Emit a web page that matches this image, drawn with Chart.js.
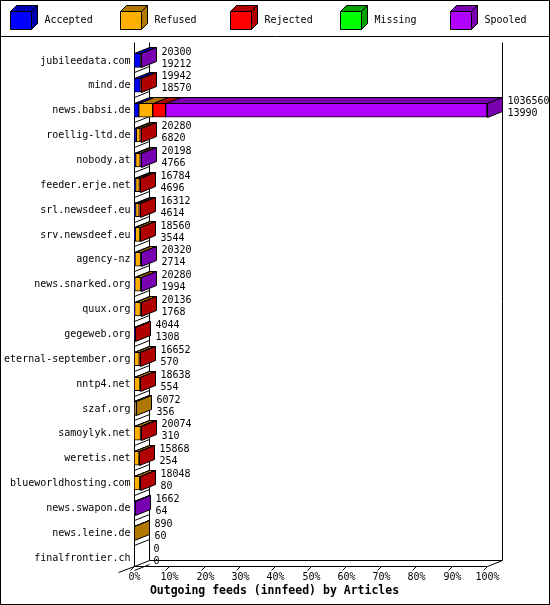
<!DOCTYPE html>
<html>
<head>
<meta charset="utf-8">
<script src="https://cdn.jsdelivr.net/npm/chart.js@4/dist/chart.umd.min.js"></script>
<style>
  html, body { margin: 0; padding: 0; background: #fff; }
  #wrap { width: 550px; height: 605px; position: relative; }
</style>
</head>
<body>
<div id="wrap"><canvas id="chart" width="550" height="605"></canvas></div>
<script>
// ---- Data (articles) ----
const hosts = ['jubileedata.com', 'mind.de', 'news.babsi.de', 'roellig-ltd.de', 'nobody.at',
  'feeder.erje.net', 'srl.newsdeef.eu', 'srv.newsdeef.eu', 'agency-nz', 'news.snarked.org',
  'quux.org', 'gegeweb.org', 'eternal-september.org', 'nntp4.net', 'szaf.org',
  'samoylyk.net', 'weretis.net', 'blueworldhosting.com', 'news.swapon.de', 'news.leine.de',
  'finalfrontier.ch'];
const offered = [20300, 19942, 1036560, 20280, 20198, 16784, 16312, 18560, 20320, 20280,
  20136, 4044, 16652, 18638, 6072, 20074, 15868, 18048, 1662, 890, 0];
const accepted = [19212, 18570, 13990, 6820, 4766, 4696, 4614, 3544, 2714, 1994,
  1768, 1308, 570, 554, 356, 310, 254, 80, 64, 60, 0];
const refused = [0, 0, 41000, 11460, 13432, 11088, 10698, 14016, 16606, 17286,
  17368, 0, 15082, 17084, 5716, 18764, 14614, 16968, 0, 830, 0];
const rejected = [0, 1372, 38000, 2000, 0, 1000, 1000, 1000, 0, 0,
  1000, 2736, 1000, 1000, 0, 1000, 1000, 1000, 0, 0, 0];
const missing = [0, 0, 0, 0, 0, 0, 0, 0, 0, 0, 0, 0, 0, 0, 0, 0, 0, 0, 0, 0, 0];
const spooled = [1088, 0, 943570, 0, 2000, 0, 0, 0, 1000, 1000,
  0, 0, 0, 0, 0, 0, 0, 0, 1598, 0, 0];
const xTicks = ['0%', '10%', '20%', '30%', '40%', '50%', '60%', '70%', '80%', '90%', '100%'];

const seriesNames = ['Accepted', 'Refused', 'Rejected', 'Missing', 'Spooled'];
const front = ['#0000ff', '#ffb000', '#ff0000', '#00ff00', '#b000ff'];
const dark = ['#0000b0', '#b07800', '#b00000', '#00a000', '#7800b0'];

const maxOffered = Math.max(...offered);
const pct = arr => arr.map(v => v / maxOffered * 100);

const DX = 15, DY = -6;
const FONT = '10px "DejaVu Sans Mono", monospace';

function poly(ctx, pts, fill) {
  ctx.beginPath();
  ctx.moveTo(pts[0][0], pts[0][1]);
  for (let i = 1; i < pts.length; i++) ctx.lineTo(pts[i][0], pts[i][1]);
  ctx.closePath();
  if (fill) { ctx.fillStyle = fill; ctx.fill(); }
  ctx.strokeStyle = '#000';
  ctx.lineWidth = 1;
  ctx.stroke();
}

// frame, legend, axis, 3d faces and labels
const frame3d = {
  id: 'frame3d',
  beforeDatasetsDraw(chart) {
    const { ctx, scales: { x } } = chart;
    ctx.save();
    ctx.translate(0.5, 0.5);
    ctx.strokeStyle = '#000';
    ctx.lineWidth = 1;
    // outer border + legend separator
    ctx.strokeRect(0, 0, 549, 604);
    ctx.beginPath(); ctx.moveTo(0, 36); ctx.lineTo(550, 36); ctx.stroke();
    // legend
    ctx.font = FONT;
    ctx.textBaseline = 'middle';
    seriesNames.forEach((n, i) => {
      const lx = 10 + i * 110;
      poly(ctx, [[lx, 11], [lx + 21, 11], [lx + 21, 29], [lx, 29]], front[i]);
      poly(ctx, [[lx, 11], [lx + 6, 5], [lx + 27, 5], [lx + 21, 11]], dark[i]);
      poly(ctx, [[lx + 21, 11], [lx + 27, 5], [lx + 27, 23], [lx + 21, 29]], dark[i]);
      ctx.fillStyle = '#000';
      ctx.fillText(n, lx + 34, 20);
    });
    const x0 = Math.round(x.getPixelForValue(0));
    const x1 = Math.round(x.getPixelForValue(100));
    const floor = 566;
    // back walls
    ctx.beginPath();
    ctx.moveTo(x0 + DX, 42); ctx.lineTo(x0 + DX, floor + DY);
    ctx.lineTo(x1 + DX, floor + DY); ctx.lineTo(x1 + DX, 42);
    ctx.moveTo(x0, 42); ctx.lineTo(x0, floor);
    ctx.lineTo(x1, floor); ctx.lineTo(x1 + DX, floor + DY);
    ctx.moveTo(x0, floor); ctx.lineTo(x0 + DX, floor + DY);
    ctx.moveTo(x0, floor); ctx.lineTo(x0 - 16, floor + 6);
    ctx.stroke();
    // category separators on left wall
    hosts.forEach((h, i) => {
      const y = Math.round(chart.scales.y.getPixelForValue(i) + 12);
      ctx.beginPath(); ctx.moveTo(x0, y); ctx.lineTo(x0 + DX, y + DY); ctx.stroke();
    });
    // x ticks
    ctx.textAlign = 'center';
    ctx.textBaseline = 'middle';
    xTicks.forEach((lbl, i) => {
      const px = Math.round(x.getPixelForValue(i * 10));
      ctx.beginPath(); ctx.moveTo(px, floor); ctx.lineTo(px - 4, floor + 4); ctx.stroke();
      ctx.fillStyle = '#000';
      ctx.fillText(lbl, px, floor + 11);
    });
    ctx.font = 'bold 11.5px "DejaVu Sans Mono", monospace';
    ctx.fillText('Outgoing feeds (innfeed) by Articles', 274, 591);
    // host labels
    ctx.font = FONT;
    ctx.textAlign = 'right';
    hosts.forEach((h, i) => {
      const y = chart.scales.y.getPixelForValue(i);
      ctx.fillText(h, x0 - 4, y);
    });
    ctx.restore();
  },
  afterDatasetsDraw(chart) {
    const { ctx } = chart;
    ctx.save();
    ctx.translate(0.5, 0.5);
    hosts.forEach((h, i) => {
      let last = -1, right = null, top = 0, bottom = 0;
      chart.data.datasets.forEach((ds, d) => {
        const el = chart.getDatasetMeta(d).data[i];
        const p = el.getProps(['x', 'base', 'y', 'height'], true);
        if (ds.data[i] <= 0) return;
        const s = Math.round(Math.min(p.x, p.base)), e = Math.round(Math.max(p.x, p.base));
        top = Math.round(p.y - p.height / 2); bottom = Math.round(p.y + p.height / 2);
        poly(ctx, [[s, top], [e, top], [e + DX, top + DY], [s + DX, top + DY]], dark[d]);
        last = d; right = e;
      });
      const y = chart.scales.y.getPixelForValue(i);
      let tx = chart.scales.x.getPixelForValue(0) + DX + 4;
      if (last >= 0) {
        poly(ctx, [[right, top], [right + DX, top + DY], [right + DX, bottom + DY], [right, bottom]], dark[last]);
        tx = right + DX + 5;
      }
      ctx.font = FONT;
      ctx.fillStyle = '#000';
      ctx.textAlign = 'left';
      ctx.textBaseline = 'middle';
      ctx.fillText(String(offered[i]), tx, y - 9);
      ctx.fillText(String(accepted[i]), tx, y + 3);
    });
    ctx.restore();
  }
};

const seriesData = [accepted, refused, rejected, missing, spooled];

new Chart(document.getElementById('chart'), {
  type: 'bar',
  data: {
    labels: hosts,
    datasets: seriesNames.map((n, i) => ({
      label: n,
      data: pct(seriesData[i]),
      backgroundColor: front[i],
      borderColor: '#000',
      borderWidth: 1,
      borderSkipped: false,
      barThickness: 14
    }))
  },
  options: {
    indexAxis: 'y',
    responsive: false,
    animation: false,
    layout: { padding: { left: 134, right: 63, top: 48, bottom: 35 } },
    plugins: { legend: { display: false }, tooltip: { enabled: false } },
    scales: {
      x: { stacked: true, min: 0, max: 100, display: false },
      y: { stacked: true, display: false }
    }
  },
  plugins: [frame3d]
});
</script>
</body>
</html>
